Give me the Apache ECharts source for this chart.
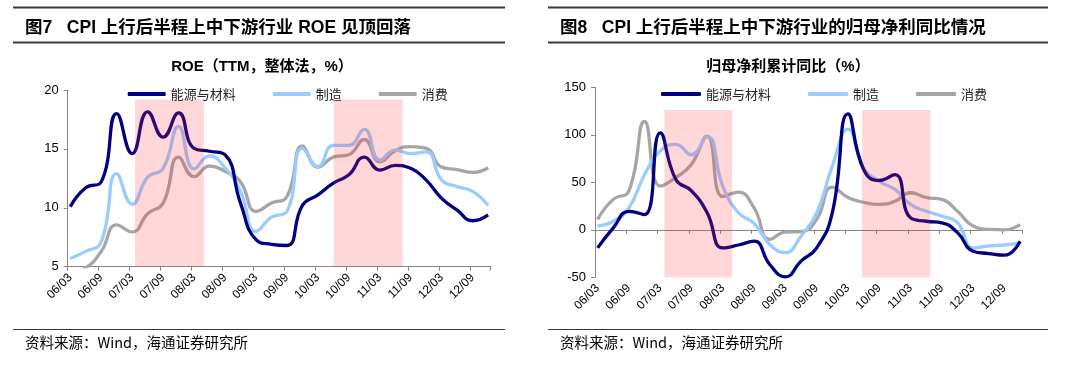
<!DOCTYPE html>
<html><head><meta charset="utf-8">
<script src="https://cdn.jsdelivr.net/npm/echarts@6/dist/echarts.min.js"></script>
<style>html,body{margin:0;padding:0;background:#fff;}#c{width:1080px;height:369px;}</style>
</head><body><div id="c"></div>
<script>
// quarterly observation dates (yy/mm)
const quarters = ['06/03','06/06','06/09','06/12','07/03','07/06','07/09','07/12','08/03','08/06','08/09','08/12','09/03','09/06','09/09','09/12','10/03','10/06','10/09','10/12','11/03','11/06','11/09','11/12','12/03','12/06','12/09','12/12'];
// tick labels shown on x axis
const xTickLabels = ['06/03','06/09','07/03','07/09','08/03','08/09','09/03','09/09','10/03','10/09','11/03','11/09','12/03','12/09'];
const seriesNames = ['能源与材料','制造','消费'];
// ROE (TTM, %)
const roeEnergy = [10.1,11.7,12.2,18.0,14.6,18.15,16.0,18.05,15.05,14.8,14.5,10.4,7.3,6.9,6.8,10.2,11.1,12.1,12.8,14.3,13.2,13.6,13.35,12.35,10.8,9.8,8.9,9.4];
const roeMfg = [5.7,6.3,7.1,12.9,10.3,12.6,13.35,16.9,13.3,14.4,13.4,11.4,8.0,9.2,9.7,15.05,13.5,15.3,15.3,16.65,14.05,14.9,14.6,14.75,12.35,11.8,11.4,10.2];
const roeCons = [4.5,4.9,6.3,8.55,7.95,9.5,10.4,14.3,12.65,13.55,13.1,12.2,9.7,10.4,10.95,15.25,13.45,14.3,14.5,15.8,13.9,14.85,15.2,15.05,13.45,13.25,13.0,13.4];
// net profit cumulative YoY (%)
const profitEnergy = [-19,2,19.5,16,102,53,41,18,-19,-16,-12,-36.5,-49.5,-33,-19,18,122,63.5,52,58,12.6,9,7.4,-3,-22.5,-25,-26.7,-12];
const profitMfg = [4,9,23,58,83,90,79,98,46,18,6.7,-15.4,-24,-6.7,18,67,106,65,51,42.5,26.7,19.6,14.4,7.4,-19,-17,-16,-13.7];
const profitCons = [11,32,41,114,46,55,69,98.6,35,39.6,23,-10,-2.5,-2,11,45,34,29,26.7,30,39,34,32,19.6,3.9,0.4,0,5.6];
// shaded periods (month offsets from 2006/03) and their tops
const roeShade = [[13.05,26.4],[51.6,64.9]];
const roeShadeTop = 19.2;
const profitShade = [[13.3,26.3],[51.2,64.3]];
const profitShadeTop = 126;

// monthly category axis 2006/03 .. 2012/12
const months = [];
for (let y = 6; y <= 12; y++) for (let m = 1; m <= 12; m++) {
  if (y === 6 && m < 3) continue;
  months.push(String(y).padStart(2,'0') + '/' + String(m).padStart(2,'0'));
}
const colors = ['#000080','#99CCFF','#A6A6A6'];
const LAT = '"Liberation Sans","Noto Sans CJK SC",sans-serif';
const CJK = '"Noto Sans CJK SC","Liberation Sans",sans-serif';
const showTick = (i, v) => xTickLabels.indexOf(v) >= 0;
const pair = arr => arr.map((v, i) => [quarters[i], v]);

function catAxis(gi, opts) {
  return Object.assign({
    type: 'category', gridIndex: gi, data: months, boundaryGap: true, position: 'bottom',
    axisLine: { show: true, onZero: false, lineStyle: { color: '#868686', width: 1 } },
    axisTick: { show: true, interval: showTick, length: 4, lineStyle: { color: '#868686' } },
    axisLabel: { interval: showTick, rotate: 45, margin: 9, fontSize: 12, fontFamily: LAT, color: '#000' },
    splitLine: { show: false }
  }, opts);
}
function valAxis(gi, min, max, interval) {
  return {
    type: 'value', gridIndex: gi, min, max, interval,
    axisLine: { show: true, lineStyle: { color: '#868686' } },
    axisTick: { show: true, length: 4, lineStyle: { color: '#868686' } },
    axisLabel: { fontSize: 13, fontFamily: LAT, color: '#000', margin: 9 },
    splitLine: { show: false }
  };
}
function lineSeries(name, data, xi, yi, ci) {
  return { type: 'line', name, data: pair(data), xAxisIndex: xi, yAxisIndex: yi, smooth: 0.5,
    showSymbol: false, symbol: 'none', z: 2,
    lineStyle: { color: colors[ci], width: 3.3 }, itemStyle: { color: colors[ci] } };
}
function shadeSeries(ranges, top, bottom, xi, yi) {
  return { type: 'custom', xAxisIndex: xi, yAxisIndex: yi, z: 5, silent: true,
    data: ranges.map(r => [r[0], r[1], top]),
    encode: { x: [0, 1], y: 2 },
    renderItem: (params, api) => {
      const p0 = api.coord([api.value(0), api.value(2)]);
      const p1 = api.coord([api.value(1), bottom]);
      return { type: 'rect', shape: { x: p0[0], y: p0[1], width: p1[0] - p0[0], height: p1[1] - p0[1] },
        style: { fill: 'rgba(255,45,55,0.19)' } };
    } };
}
function txt(text, x, y, size, weight, family, align) {
  return { type: 'text', x, y, silent: true, style: { text, fontSize: size, fontWeight: weight, fontFamily: family,
    fill: '#000', align: align || 'left', verticalAlign: 'middle' } };
}
function rule(x1, x2, y, w) {
  return { type: 'line', silent: true, shape: { x1, y1: y, x2, y2: y }, style: { stroke: '#3a3a3a', lineWidth: w } };
}

const chart = echarts.init(document.getElementById('c'), null, { renderer: 'canvas' });
chart.setOption({
  animation: false,
  backgroundColor: '#fff',
  grid: [
    { left: 67.7, top: 90, width: 423, height: 176.7, containLabel: false, outerBoundsMode: 'none' },
    { left: 595, top: 87.3, width: 427.7, height: 190, containLabel: false, outerBoundsMode: 'none' }
  ],
  xAxis: [
    catAxis(0, {}),
    catAxis(1, { axisLine: { show: true, onZero: true, lineStyle: { color: '#868686', width: 1 } }, axisLabel: { show: false } }),
    catAxis(1, { axisLine: { show: false, onZero: false }, axisTick: { show: false } }),
    { type: 'value', gridIndex: 0, min: 0, max: months.length, show: false },
    { type: 'value', gridIndex: 1, min: 0, max: months.length, show: false }
  ],
  yAxis: [ valAxis(0, 5, 20, 5), valAxis(1, -50, 150, 50) ],
  legend: [
    { data: seriesNames, left: 127.7, top: 87.5, padding: 0, itemWidth: 38, itemHeight: 4, itemGap: 37, icon: 'roundRect',
      textStyle: { fontSize: 13, fontFamily: CJK, color: '#222' } },
    { data: seriesNames, left: 661, top: 87.5, padding: 0, itemWidth: 40, itemHeight: 4, itemGap: 37, icon: 'roundRect',
      textStyle: { fontSize: 13, fontFamily: CJK, color: '#222' } }
  ],
  series: [
    lineSeries(seriesNames[2], roeCons, 0, 0, 2),
    lineSeries(seriesNames[1], roeMfg, 0, 0, 1),
    lineSeries(seriesNames[0], roeEnergy, 0, 0, 0),
    shadeSeries(roeShade, roeShadeTop, 5, 3, 0),
    lineSeries(seriesNames[2], profitCons, 1, 1, 2),
    lineSeries(seriesNames[1], profitMfg, 1, 1, 1),
    lineSeries(seriesNames[0], profitEnergy, 1, 1, 0),
    shadeSeries(profitShade, profitShadeTop, -50, 4, 1)
  ],
  graphic: [
    rule(13, 505, 7.5, 2), rule(13, 505, 42.5, 2), rule(13, 505, 329.5, 1.2),
    rule(548, 1048, 7.5, 2), rule(548, 1048, 42.5, 2), rule(548, 1048, 329.5, 1.2),
    txt('图7   CPI 上行后半程上中下游行业 ROE 见顶回落', 25, 28, 17.5, 'bold', LAT),
    txt('图8   CPI 上行后半程上中下游行业的归母净利同比情况', 560, 28, 17.5, 'bold', LAT),
    txt('ROE（TTM，整体法，%）', 262, 67, 15, 'bold', LAT, 'center'),
    txt('归母净利累计同比（%）', 788, 67, 15, 'bold', LAT, 'center'),
    txt('资料来源：Wind，海通证券研究所', 25, 342, 14.5, 'normal', CJK),
    txt('资料来源：Wind，海通证券研究所', 560, 342, 14.5, 'normal', CJK)
  ]
});
</script></body></html>
